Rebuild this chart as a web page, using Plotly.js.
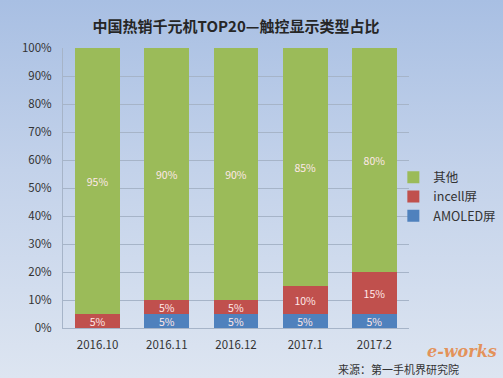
<!DOCTYPE html>
<html><head><meta charset="utf-8">
<script src="https://cdn.plot.ly/plotly-3.0.1.min.js"></script>
<style>
html,body{margin:0;padding:0;}
#c{width:503px;height:378px;background:linear-gradient(to bottom,#a8bfe3 0%,#c3d2ea 45%,#dde5f1 100%);}
</style></head>
<body><div id="c"></div>
<script>
const categories = ['2016.10','2016.11','2016.12','2017.1','2017.2'];
const amoled = [0,5,5,5,5];
const incell = [5,5,5,10,15];
const other = [95,90,90,85,80];
const seriesNames = ['AMOLED屏','incell屏','其他'];
const colors = ['#4f81bd','#c0504d','#9bbb59'];
const yTicks = [0,10,20,30,40,50,60,70,80,90,100];

const font = "'Noto Sans CJK SC', 'Open Sans', sans-serif";
function mk(vals,i){
  return {type:'bar',x:categories,y:vals,name:seriesNames[i],
    marker:{color:colors[i]},
    text:vals.map(v=>v>0?v+'%':''),textposition:'inside',insidetextanchor:'middle',constraintext:'none',
    textfont:{color:'#ffe8e8',size:10.5,family:font},
    hoverinfo:'skip'};
}
const data=[mk(amoled,0),mk(incell,1),mk(other,2)];
const layout={
  width:503,height:378,
  paper_bgcolor:'rgba(0,0,0,0)',plot_bgcolor:'rgba(0,0,0,0)',
  barmode:'stack',bargap:0.35,
  uniformtext:{mode:'show',minsize:10.5},
  margin:{l:63,r:94,t:48,b:50,autoexpand:false},
  title:{text:'<b>中国热销千元机TOP20—触控显示类型占比</b>',font:{family:font,size:15,color:'#262626'},x:0.5,xanchor:'center',xref:'paper',y:0.93,yanchor:'middle'},
  xaxis:{type:'category',tickfont:{family:font,size:11.5,color:'#333'},showline:true,linecolor:'#a6b4c8',ticks:'',fixedrange:true,ticklabelstandoff:6},
  yaxis:{range:[0,100],tickvals:yTicks,ticktext:yTicks.map(v=>v+'%'),tickfont:{family:font,size:11.5,color:'#333'},
    showgrid:true,gridcolor:'#a6b4c8',gridwidth:1,showline:true,linecolor:'#a6b4c8',zeroline:false,ticks:'',fixedrange:true,ticklabelstandoff:8},
  legend:{xref:'container',yref:'container',x:0.782,y:0.48,xanchor:'left',yanchor:'middle',traceorder:'reversed',font:{family:font,size:12.5,color:'#333'},bgcolor:'rgba(0,0,0,0)',itemwidth:30,tracegroupgap:4},
  showlegend:true,
  annotations:[
    {text:'来源：第一手机界研究院',xref:'paper',yref:'paper',x:1.15,y:-0.145,xanchor:'right',yanchor:'middle',showarrow:false,font:{family:font,size:11,color:'#333'}},
    {text:'<i><b>e-works</b></i>',xref:'paper',yref:'paper',x:1.26,y:-0.085,xanchor:'right',yanchor:'middle',showarrow:false,font:{family:'DejaVu Serif, serif',size:16,color:'rgba(230,120,40,0.75)'}}
  ]
};
Plotly.newPlot('c',data,layout,{displayModeBar:false,staticPlot:true});
</script></body></html>
